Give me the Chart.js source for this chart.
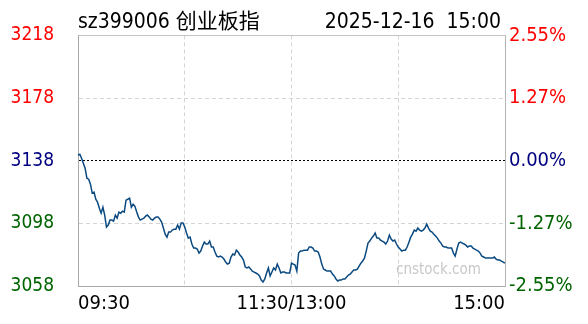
<!DOCTYPE html>
<html><head><meta charset="utf-8">
<script src="https://cdn.jsdelivr.net/npm/chart.js@4/dist/chart.umd.min.js"></script>
<style>
html,body{margin:0;padding:0;background:#fff;}
#wrap{position:relative;width:588px;height:324px;overflow:hidden;background:#fff;}
canvas{position:absolute;left:0;top:0;}
.t{position:absolute;font-family:"DejaVu Sans Condensed","DejaVu Sans","Noto Sans CJK SC",sans-serif;font-size:21px;color:#000;line-height:1;white-space:pre;}
</style></head><body>
<div id="wrap">
<canvas id="c" width="588" height="324"></canvas>
<div class="t" id="name" style="left:78px;top:11px;"></div>
<div class="t" id="date" style="right:87px;top:11px;"></div>
<div class="t" id="wm" style="left:396px;top:262px;font-size:15px;color:#c8c8c8;"></div>
</div>
<script>
const stockCode = 'sz399006';
const stockName = '创业板指';
const tradeDate = '2025-12-16';
const tradeTime = '15:00';
const watermark = 'cnstock.com';
const preClose = 3138;
const priceTicks = [3218, 3178, 3138, 3098, 3058];
const pctTicks = ['2.55%', '1.27%', '0.00%', '-1.27%', '-2.55%'];
const timeTicks = ['09:30', '11:30/13:00', '15:00'];
const prices = [
3141.5,3142.1,3139.6,3136.4,3133.2,3126.8,3126.2,3123.0,3117.3,3117.9,
3113.4,3111.5,3107.7,3104.5,3108.3,3103.3,3095.6,3096.9,3100.1,3100.1,
3099.4,3103.3,3101.3,3105.2,3104.5,3105.8,3105.2,3112.8,3113.4,3114.1,
3108.3,3110.2,3108.9,3105.2,3102.0,3100.1,3100.7,3101.3,3102.6,3103.3,
3102.0,3100.7,3100.1,3101.3,3102.0,3102.0,3100.7,3098.8,3095.0,3091.1,
3089.2,3092.4,3092.4,3093.7,3094.3,3094.3,3096.9,3094.3,3098.2,3098.2,
3095.6,3091.8,3088.6,3089.2,3084.8,3082.2,3082.2,3081.6,3079.0,3080.3,
3083.5,3086.0,3084.8,3084.8,3086.7,3082.9,3082.9,3079.7,3077.1,3076.5,
3077.1,3076.5,3075.2,3073.3,3072.0,3072.6,3076.5,3078.4,3077.8,3080.9,
3079.7,3077.8,3076.5,3074.6,3070.1,3069.5,3070.1,3068.8,3067.5,3066.9,
3066.3,3065.6,3064.4,3061.8,3060.5,3062.5,3066.3,3069.5,3064.4,3066.9,
3069.5,3068.2,3072.0,3069.5,3066.3,3066.9,3066.9,3066.3,3066.3,3066.3,
3072.6,3072.0,3071.4,3067.5,3079.0,3080.3,3080.3,3080.9,3080.9,3080.9,
3082.9,3082.9,3082.2,3080.3,3080.3,3079.7,3076.5,3072.0,3068.8,3068.2,
3067.5,3067.5,3067.5,3065.6,3064.4,3062.5,3061.2,3061.8,3061.8,3062.5,
3062.5,3063.7,3065.0,3065.6,3066.9,3068.2,3068.2,3068.8,3070.7,3072.6,
3073.9,3075.8,3080.3,3085.4,3086.7,3088.6,3089.9,3091.8,3088.6,3088.6,
3087.3,3086.7,3086.0,3084.8,3086.7,3090.5,3088.0,3086.7,3087.3,3084.8,
3082.9,3081.6,3080.3,3080.9,3080.9,3082.9,3086.0,3089.2,3091.1,3093.7,
3093.0,3095.0,3093.7,3093.0,3093.7,3095.0,3097.5,3095.0,3093.0,3092.4,
3091.1,3089.9,3088.6,3086.7,3085.4,3083.5,3082.9,3082.9,3082.2,3082.2,
3082.2,3079.0,3077.1,3081.6,3085.4,3086.0,3085.4,3084.8,3084.1,3082.9,
3083.5,3083.5,3082.2,3081.6,3080.9,3080.3,3079.0,3077.1,3076.5,3075.8,
3075.8,3075.8,3075.8,3075.8,3076.5,3075.2,3074.6,3074.6,3073.9,3073.3,
3072.6
];

document.getElementById('name').textContent = stockCode + ' ' + stockName;
document.getElementById('date').textContent = tradeDate + '  ' + tradeTime;
document.getElementById('wm').textContent = watermark;

// minute labels: 09:30-11:30, 13:01-15:00
function pad(n){return (n<10?'0':'')+n;}
const minutes = [];
for (let m = 9*60+30; m <= 11*60+30; m++) minutes.push(pad(Math.floor(m/60))+':'+pad(m%60));
for (let m = 13*60+1; m <= 15*60; m++) minutes.push(pad(Math.floor(m/60))+':'+pad(m%60));

const FONT = '"DejaVu Sans Condensed","DejaVu Sans",sans-serif';
const last = minutes.length - 1;
const xTickIdx = [0, last/4, last/2, last*3/4, last];
const xLabelAt = {0: timeTicks[0]}; xLabelAt[last/2] = timeTicks[1]; xLabelAt[last] = timeTicks[2];

function priceColor(v){ return v > preClose ? '#ff0000' : (v < preClose ? '#006400' : '#000080'); }

new Chart(document.getElementById('c'), {
  type: 'line',
  data: {
    labels: minutes,
    datasets: [{
      data: prices,
      borderColor: '#0b4a80',
      borderWidth: 1.5,
      pointRadius: 0,
      tension: 0,
      fill: false
    }]
  },
  options: {
    responsive: false,
    animation: false,
    events: [],
    layout: { padding: { top: 35, left: 0, right: 0, bottom: 0 } },
    plugins: { legend: { display: false }, title: { display: false }, tooltip: { enabled: false } },
    scales: {
      x: {
        type: 'category',
        position: 'bottom',
        afterBuildTicks: s => { s.ticks = xTickIdx.map(v => ({ value: v })); },
        afterFit: s => { s.height = 38; },
        ticks: {
          autoSkip: false, maxRotation: 0, minRotation: 0, align: 'inner', padding: 6,
          color: '#000', font: { family: FONT, size: 20 },
          callback: v => xLabelAt[v] || ''
        },
        grid: {
          drawTicks: false,
          color: c => (c.tick && (c.tick.value === 0 || c.tick.value === last)) ? 'rgba(0,0,0,0)' : '#d4d4d4',
          lineWidth: 1
        },
        border: { display: true, color: '#a8a8a8', width: 1, dash: [4, 3] }
      },
      xTop: {
        type: 'category',
        position: 'top',
        afterFit: s => { s.height = 0; },
        ticks: { display: false },
        grid: { display: false, drawTicks: false },
        border: { display: true, color: '#c4c4c4', width: 1 }
      },
      y: {
        type: 'linear',
        position: 'left',
        min: priceTicks[priceTicks.length-1],
        max: priceTicks[0],
        afterBuildTicks: s => { s.ticks = priceTicks.map(v => ({ value: v })); },
        afterFit: s => { s.width = 78; },
        ticks: {
          padding: 24,
          font: { family: FONT, size: 19 },
          color: c => priceColor(c.tick.value),
          callback: v => String(v)
        },
        grid: {
          drawTicks: false,
          color: c => {
            const v = c.tick ? c.tick.value : null;
            if (v === preClose) return '#000000';
            if (v === priceTicks[0] || v === priceTicks[priceTicks.length-1]) return 'rgba(0,0,0,0)';
            return '#d4d4d4';
          },
          lineWidth: 1
        },
        border: {
          display: true, color: '#a8a8a8', width: 1,
          dash: c => (c.tick && c.tick.value === preClose) ? [2, 2] : [4, 3]
        }
      },
      yRight: {
        type: 'linear',
        position: 'right',
        min: priceTicks[priceTicks.length-1],
        max: priceTicks[0],
        afterBuildTicks: s => { s.ticks = priceTicks.map(v => ({ value: v })); },
        afterFit: s => { s.width = 83; },
        ticks: {
          padding: 4,
          font: { family: FONT, size: 20 },
          color: c => priceColor(c.tick.value),
          callback: (v, i) => pctTicks[i]
        },
        grid: { display: false, drawTicks: false },
        border: { display: true, color: '#b4b4b4', width: 1 }
      }
    }
  }
});
</script>
</body></html>
